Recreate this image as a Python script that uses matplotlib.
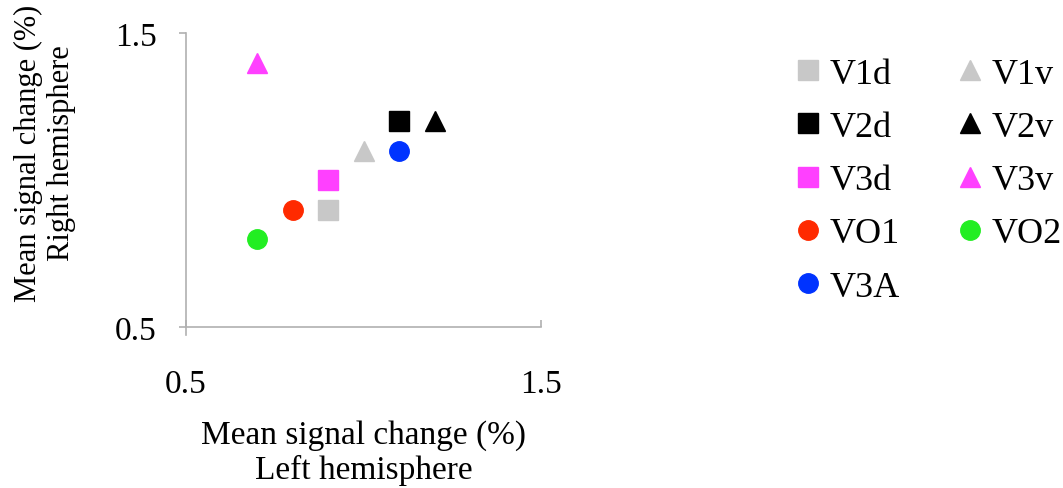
import matplotlib
matplotlib.use("Agg")
import matplotlib.pyplot as plt

plt.rcParams['font.family'] = ['Liberation Serif', 'DejaVu Serif']

# regions: left vs right hemisphere mean signal change (%)
regions = ['V1d', 'V2d', 'V3d', 'VO1', 'V3A', 'V1v', 'V2v', 'V3v', 'VO2']
left_hemi = [0.9, 1.1, 0.9, 0.8, 1.1, 1.0, 1.2, 0.7, 0.7]
right_hemi = [0.9, 1.2, 1.0, 0.9, 1.1, 1.1, 1.2, 1.4, 0.8]
markers = ['s', 's', 's', 'o', 'o', '^', '^', '^', 'o']
colors = ['#c8c8c8', '#000000', '#ff40ff', '#ff2a00', '#0033ff',
          '#c8c8c8', '#000000', '#ff40ff', '#22ee22']

fig = plt.figure(figsize=(10.63, 4.89), dpi=100)
ax = fig.add_axes([0.175, 0.329, 0.334, 0.601])

for name, x, y, m, c in zip(regions, left_hemi, right_hemi, markers, colors):
    ax.plot(x, y, linestyle='none', marker=m, color=c, markersize=14,
            label=name, clip_on=False)

ax.set_xlim(0.5, 1.5)
ax.set_ylim(0.5, 1.5)
ax.set_xticks([0.5, 1.5])
ax.set_yticks([0.5, 1.5])
ax.set_xticklabels(['0.5', '1.5'])
ax.set_yticklabels(['0.5', '1.5'])

for s in ['top', 'right']:
    ax.spines[s].set_visible(False)
for s in ['left', 'bottom']:
    ax.spines[s].set_color('#b0b0b0')
    ax.spines[s].set_linewidth(1.2)
ax.spines['left'].set_bounds(0.473, 1.5)

ax.tick_params(axis='y', direction='out', length=5, width=1.2, color='#b0b0b0',
               labelsize=24, pad=16)
ax.tick_params(axis='x', direction='in', length=5, width=1.2, color='#b0b0b0',
               labelsize=24, pad=30)

ax.set_xlabel('Mean signal change (%)\nLeft hemisphere', fontsize=24, labelpad=14,
              linespacing=1.2)
# y label sits above the axis centre in the reference, so place it by hand
fig.text(45 / 1063, 1 - 153 / 489, 'Mean signal change (%)\nRight hemisphere',
         rotation=90, ha='center', va='center', fontsize=22, linespacing=1.15)

ax.legend(ncol=2, loc='upper left', bbox_to_anchor=(1.66, 0.966), frameon=False,
          fontsize=26, handletextpad=0.1, columnspacing=1.45, labelspacing=0.55,
          handlelength=1.0, borderaxespad=0.0)

fig.savefig('out.png', dpi=100)
